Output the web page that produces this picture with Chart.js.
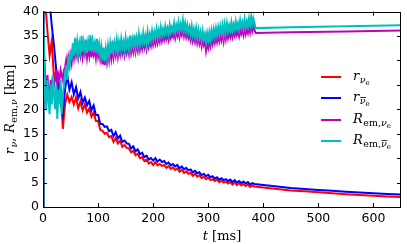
<!DOCTYPE html>
<html>
<head>
<meta charset="utf-8">
<script src="https://cdn.jsdelivr.net/npm/chart.js@4/dist/chart.umd.min.js"></script>
<style>
  html, body { margin: 0; padding: 0; background: #fff; }
  #wrap { width: 407px; height: 244px; }
</style>
</head>
<body>
<div id="wrap"><canvas id="rChart" width="407" height="244"></canvas></div>
<script>
// time samples of the noisy part (ms)
const tNoisy = [0, 1, 4, 8, 12, 16, 20, 24, 28, 32, 36, 40, 44, 48, 52, 56, 60, 64, 68, 72, 76, 80, 84, 88, 92, 96,
  100, 104, 108, 112, 116, 120, 124, 128, 132, 136, 140, 144, 148, 152, 156, 160, 164, 168, 172, 176, 180, 184, 188, 192, 196,
  200, 204, 208, 212, 216, 220, 224, 228, 232, 236, 240, 244, 248, 252, 256, 260, 264, 268, 272, 276, 280, 284, 288, 292, 296,
  300, 304, 308, 312, 316, 320, 324, 328, 332, 336, 340, 344, 348, 352, 356, 360, 364, 368, 372, 376, 380, 384];
// emission radii are sampled every 2 ms
const tNoisyR = [0, 1].concat(Array.from({ length: 192 }, (_, i) => 2 + 2 * i));

const rNue = [0, 45, 42, 36, 31, 34, 26, 28, 23, 24, 16, 21, 23, 21.5, 22.5, 21,
  22.4, 20.2, 21.6, 19.8, 21.0, 19.3, 20.2, 18.5, 19.4, 17.6,
  17.6, 15.8, 15.6, 15.0, 15.2, 14.3, 14.5, 13.3, 14.1, 13.0,
  13.6, 12.3, 12.7, 12.1, 12.0, 11.2, 11.5, 10.6, 10.9, 10.0,
  10.2, 9.4, 9.7, 8.9, 9.2, 8.6, 9.2, 8.5, 8.8, 8.4,
  8.6, 8.0, 8.4, 7.8, 8.1, 7.6, 7.9, 7.2, 7.6, 7.0,
  7.3, 6.8, 7.0, 6.4, 6.8, 6.2, 6.5, 5.9, 6.2, 5.7,
  6.0, 5.5, 5.7, 5.3, 5.6, 5.1, 5.4, 5.0, 5.2, 4.8,
  5.1, 4.6, 5.0, 4.5, 4.9, 4.4, 4.7, 4.3, 4.6, 4.1, 4.4, 4.2];

const rNuebar = [0, 48, 45, 41, 42, 37, 33, 28, 26, 22, 19, 24, 27, 24, 25.5, 23,
  24.5, 22.2, 23.5, 21.3, 22.4, 20.8, 21.7, 19.8, 20.8, 18.8,
  18.8, 17.0, 17.0, 16.4, 16.5, 15.5, 15.8, 14.5, 15.3, 14.0,
  14.6, 13.3, 13.6, 13.0, 12.9, 12.0, 12.4, 11.4, 11.8, 10.8,
  11.1, 10.2, 10.5, 9.7, 10.0, 9.5, 10.0, 9.3, 9.7, 9.2,
  9.4, 8.8, 9.1, 8.5, 8.8, 8.3, 8.6, 7.9, 8.3, 7.7,
  8.0, 7.5, 7.7, 7.1, 7.4, 6.9, 7.1, 6.5, 6.8, 6.3,
  6.6, 6.1, 6.3, 5.8, 6.1, 5.6, 5.9, 5.5, 5.7, 5.3,
  5.6, 5.1, 5.5, 5.0, 5.3, 4.9, 5.2, 4.8, 5.1, 4.6, 4.9, 4.7];

const remNue = [0, 40,
  32, 26, 23, 27, 24, 22, 26, 24, 27, 25,
  26, 28, 25, 27, 26, 28, 27, 26, 28, 28.5,
  30, 28, 30.5, 29, 31, 29.5, 32, 30.5, 33, 31,
  32.6, 30.6, 32.2, 31, 33.4, 30.8, 32.6, 31.2, 33, 30.6,
  32.4, 31, 33.8, 30.6, 32.6, 31.2, 32.4, 30.6, 33, 30.8,
  32, 30.2, 31.6, 29.2, 31.4, 29, 31.2, 29.6, 31.8, 30,
  32, 30.4, 32.6, 30.6, 32.2, 31, 32.8, 30.8, 32.4, 31.2,
  33, 31.4, 32.6, 31.2, 33.2, 31.6, 32.8, 31.4, 33.6, 31.6,
  33, 31.8, 33.8, 31.8, 33.2, 32, 34, 32.2, 33.6, 32.4,
  34.2, 32.6, 33.8, 32.4, 34.4, 32.8, 34, 33, 34.6, 33.2,
  34.4, 33.4, 35, 33.6, 34.8, 33.8, 35.4, 34, 35, 34.2,
  35.6, 34.4, 35.2, 34.2, 35.8, 34.6, 35.4, 34.8, 36.2, 34.6,
  35.8, 35, 36.4, 34.8, 36, 35.2, 36.6, 35, 36.2, 34.8,
  35.8, 34.6, 35.4, 34.2, 35.6, 34, 35, 33.8, 35.2, 33.6,
  34.8, 33.4, 34.4, 33, 34.6, 33.2, 34, 32, 33.6, 32.6,
  34.2, 33, 34.6, 33.4, 34.8, 33.6, 35, 33.8, 35.2, 34,
  35.4, 34.2, 35.6, 34, 35.8, 34.4, 36, 34.6, 35.6, 34.8,
  36.2, 34.8, 35.8, 35, 36.4, 35.2, 36, 35, 36.6, 35.4,
  36.2, 35.2, 36.8, 35.4, 36.4, 35.6, 37, 35.8, 37.4, 36,
  37, 36.2];

const remNuebar = [0, 40,
  30, 24, 20, 26, 22, 19, 25, 21, 27, 23,
  20, 25, 18, 24, 21, 26, 19, 23, 25, 27,
  29, 26, 31, 28, 32, 30, 33.5, 31, 34.5, 32,
  34, 31.5, 33.5, 32, 35, 31.8, 33.8, 32.2, 34.2, 31.6,
  33.8, 32, 35.2, 31.8, 34, 32.4, 33.6, 31.6, 34.4, 32,
  33.4, 31.2, 32.8, 30, 32.6, 29.8, 32.4, 30.6, 33, 31,
  33.4, 31.4, 34, 31.8, 33.6, 32.2, 34.2, 31.8, 33.8, 32.4,
  34.4, 32.6, 33.8, 32.2, 34.6, 32.8, 34, 32.4, 35, 32.8,
  34.4, 33, 35.2, 32.8, 34.6, 33.2, 35.4, 33.4, 34.8, 33.6,
  35.6, 33.8, 35, 33.4, 35.8, 34, 35.4, 34.2, 36, 34.4,
  35.8, 34.6, 36.4, 34.8, 36.2, 35, 36.8, 35.2, 36.4, 35.4,
  37, 35.6, 36.6, 35.4, 37.2, 35.8, 36.8, 36, 37.6, 35.8,
  37.2, 36.2, 37.8, 36, 37.4, 36.4, 38.2, 36.2, 37.6, 36,
  37.2, 35.8, 36.8, 35.4, 37, 35.2, 36.4, 35, 36.6, 34.8,
  36.2, 34.6, 35.8, 34.2, 36, 34.4, 35.4, 33.8, 35.6, 34.2,
  35.8, 34.4, 36.2, 34.8, 36.4, 35, 36.6, 35.2, 36.8, 35.4,
  37, 35.6, 37.2, 35.4, 37.4, 35.8, 37.6, 36, 37.2, 36.2,
  37.8, 36.2, 37.4, 36.4, 38, 36.6, 37.6, 36.4, 38.2, 36.8,
  37.8, 36.6, 38.4, 36.8, 38, 37, 38.6, 37.2, 39, 37.4,
  38.6, 37.6];

// smooth late-time part
const tTailR = [400, 425, 450, 475, 500, 525, 550, 575, 600, 625, 650];
const rNueTail = [4.0, 3.7, 3.4, 3.2, 3.0, 2.8, 2.6, 2.45, 2.3, 2.15, 2.05];
const rNuebarTail = [4.5, 4.2, 3.9, 3.7, 3.5, 3.3, 3.1, 2.95, 2.8, 2.65, 2.55];

const tTailR_em = [386, 450, 550, 650];
const remNueTail = [35.6, 35.75, 35.9, 36.1];
const remNuebarTail = [36.6, 36.8, 37.0, 37.2];

const xTicks = [0, 100, 200, 300, 400, 500, 600];
const yTicks = [0, 5, 10, 15, 20, 25, 30, 35, 40];

function pts(ts, vs, ts2, vs2) {
  const out = ts.map((t, i) => ({ x: t, y: vs[i] }));
  return out.concat(ts2.map((t, i) => ({ x: t, y: vs2[i] })));
}

// legend labels, drawn with subscripts
// parts: [text, italic, level]  level 0 normal, 1 subscript, 2 sub-subscript; "bar" = over-bar
const legendItems = [
  { color: "#ff0000", parts: [["r", 1, 0], ["ν", 1, 1], ["e", 0, 2]] },
  { color: "#0000ff", parts: [["r", 1, 0], ["ν", 1, 1, "bar"], ["e", 0, 2]] },
  { color: "#bf00bf", parts: [["R", 1, 0], ["em", 0, 1], [",", 0, 1], ["ν", 1, 1], ["e", 0, 2]] },
  { color: "#00bfbf", parts: [["R", 1, 0], ["em", 0, 1], [",", 0, 1], ["ν", 1, 1, "bar"], ["e", 0, 2]] },
];

const SERIF = '"DejaVu Serif", "Liberation Serif", serif';
const sizes = [13, 9.5, 7];
const drops = [0, 3, 5];

function drawMath(ctx, parts, x, y) {
  let cx = x;
  parts.forEach((p) => {
    const lvl = p[2];
    ctx.font = (p[1] ? "italic " : "") + sizes[lvl] + "px " + SERIF;
    const w = ctx.measureText(p[0]).width;
    const by = y + drops[lvl];
    ctx.fillText(p[0], cx, by);
    if (p[3] === "bar") {
      ctx.fillRect(cx + 0.5, by - sizes[lvl] * 0.72, w, 0.8);
    }
    cx += w + (lvl === 0 ? 0.5 : 0);
  });
  return cx;
}

const framePlugin = {
  id: "frame",
  afterDraw(chart) {
    const ctx = chart.ctx;
    const a = chart.chartArea;
    const xs = chart.scales.x, ys = chart.scales.y;
    ctx.save();
    ctx.strokeStyle = "#000";
    ctx.lineWidth = 1;
    ctx.strokeRect(Math.round(a.left) + 0.5, Math.round(a.top) + 0.5,
      Math.round(a.right - a.left) - 1, Math.round(a.bottom - a.top) - 1);
    ctx.beginPath();
    xTicks.forEach((v) => {
      const px = Math.round(xs.getPixelForValue(v)) + 0.5;
      ctx.moveTo(px, a.bottom); ctx.lineTo(px, a.bottom - 4);
      ctx.moveTo(px, a.top); ctx.lineTo(px, a.top + 4);
    });
    yTicks.forEach((v) => {
      const py = Math.round(ys.getPixelForValue(v)) + 0.5;
      ctx.moveTo(a.left, py); ctx.lineTo(a.left + 4, py);
      ctx.moveTo(a.right, py); ctx.lineTo(a.right - 4, py);
    });
    ctx.stroke();

    // legend
    ctx.fillStyle = "#000";
    ctx.textBaseline = "alphabetic";
    ctx.textAlign = "left";
    const rows = [77, 98, 120, 141];
    legendItems.forEach((it, i) => {
      ctx.strokeStyle = it.color;
      ctx.lineWidth = 2;
      ctx.beginPath();
      ctx.moveTo(321, rows[i]); ctx.lineTo(341, rows[i]);
      ctx.stroke();
      ctx.fillStyle = "#000";
      drawMath(ctx, it.parts, 353, rows[i] + 3);
    });

    // x axis title
    ctx.font = "italic 13px " + SERIF;
    const w1 = ctx.measureText("t").width;
    ctx.font = "13px " + SERIF;
    const w2 = ctx.measureText(" [ms]").width;
    const cx = (a.left + a.right) / 2 - (w1 + w2) / 2;
    ctx.font = "italic 13px " + SERIF;
    ctx.fillText("t", cx, 240);
    ctx.font = "13px " + SERIF;
    ctx.fillText(" [ms]", cx + w1, 240);

    // y axis title (rotated)
    ctx.translate(14, (a.top + a.bottom) / 2);
    ctx.rotate(-Math.PI / 2);
    const yParts = [["r", 1, 0], ["ν", 1, 1], [", ", 0, 0], ["R", 1, 0], ["em", 0, 1], [",", 0, 1], ["ν", 1, 1], [" [km]", 0, 0]];
    let tw = 0;
    yParts.forEach((p) => {
      ctx.font = (p[1] ? "italic " : "") + sizes[p[2]] + "px " + SERIF;
      tw += ctx.measureText(p[0]).width + (p[2] === 0 ? 0.5 : 0);
    });
    drawMath(ctx, yParts, -tw / 2, 0);
    ctx.restore();
  },
};

const ds = (label, data, color, order) => ({
  label: label,
  data: data,
  borderColor: color,
  backgroundColor: color,
  borderWidth: 2,
  pointRadius: 0,
  tension: 0,
  order: order,
});

new Chart(document.getElementById("rChart").getContext("2d"), {
  type: "line",
  data: {
    datasets: [
      ds("r_nue", pts(tNoisy, rNue, tTailR, rNueTail), "#ff0000", 4),
      ds("r_nuebar", pts(tNoisy, rNuebar, tTailR, rNuebarTail), "#0000ff", 3),
      ds("R_em_nue", pts(tNoisyR, remNue, tTailR_em, remNueTail), "#bf00bf", 2),
      ds("R_em_nuebar", pts(tNoisyR, remNuebar, tTailR_em, remNuebarTail), "#00bfbf", 1),
    ],
  },
  options: {
    responsive: false,
    animation: false,
    devicePixelRatio: 1,
    layout: { padding: { top: 10, right: 6, left: 0, bottom: 0 } },
    plugins: { legend: { display: false }, tooltip: { enabled: false } },
    scales: {
      x: {
        type: "linear",
        min: 0,
        max: 650,
        afterBuildTicks: (s) => { s.ticks = xTicks.map((v) => ({ value: v })); },
        afterFit: (s) => { s.height = 37; },
        grid: { display: false, drawTicks: false },
        border: { display: false },
        ticks: { color: "#000", padding: 4, maxRotation: 0, font: { family: "DejaVu Sans", size: 12.5 } },
      },
      y: {
        min: 0,
        max: 40,
        afterBuildTicks: (s) => { s.ticks = yTicks.map((v) => ({ value: v })); },
        afterFit: (s) => { s.width = 43; },
        grid: { display: false, drawTicks: false },
        border: { display: false },
        ticks: { color: "#000", padding: 4, font: { family: "DejaVu Sans", size: 12.5 } },
      },
    },
  },
  plugins: [framePlugin],
});
</script>
</body>
</html>
